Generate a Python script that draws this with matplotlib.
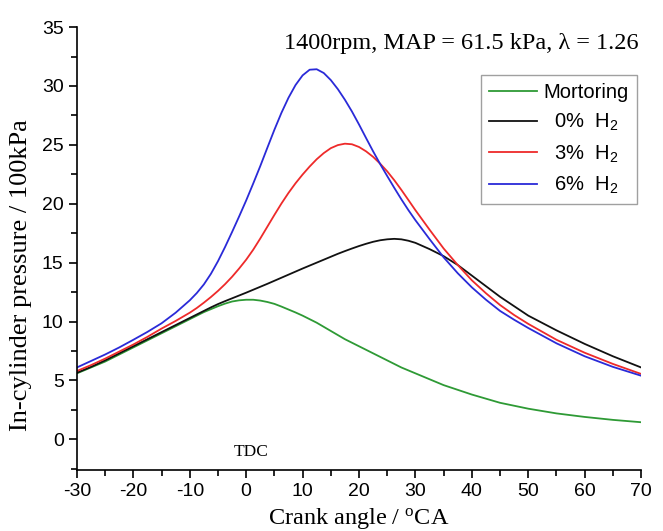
import numpy as np
import matplotlib.pyplot as plt
from matplotlib.ticker import MultipleLocator

plt.rcParams['font.family'] = ['Liberation Sans', 'DejaVu Sans']
plt.rcParams['mathtext.default'] = 'regular'
plt.rcParams['axes.unicode_minus'] = False

# crank angle (deg CA)
ca = [-30, -27.5, -25, -22.5, -20, -17.5, -15, -12.5, -10,
      -8.75, -7.5, -6.25, -5, -3.75, -2.5, -1.25, 0, 1.25, 2.5, 3.75, 5,
      6.25, 7.5, 8.75, 10, 11.25, 12.5, 13.75, 15, 16.25, 17.5, 18.75, 20,
      21.25, 22.5, 23.75, 25, 26.25, 27.5, 28.75, 30,
      32.5, 35, 37.5, 40, 42.5, 45, 47.5, 50, 55, 60, 65, 70]

# in-cylinder pressure / 100kPa
motoring = [5.6, 6.1, 6.6, 7.2, 7.8, 8.4, 9.0, 9.6, 10.2,
            10.5, 10.8, 11.05, 11.3, 11.52, 11.7, 11.8, 11.85, 11.85, 11.78,
            11.66, 11.5, 11.27, 11.02, 10.77, 10.5, 10.2, 9.9, 9.55, 9.2, 8.85,
            8.5, 8.2, 7.9, 7.6, 7.3, 7.0, 6.7, 6.4, 6.1, 5.85, 5.6,
            5.1, 4.6, 4.2, 3.8, 3.45, 3.1, 2.85, 2.6, 2.2, 1.9, 1.65, 1.45]
h2_0 = [5.65, 6.15, 6.7, 7.3, 7.9, 8.5, 9.1, 9.7, 10.3,
        10.6, 10.9, 11.2, 11.48, 11.73, 11.97, 12.21, 12.45, 12.7, 12.95, 13.2,
        13.46, 13.72, 13.98, 14.24, 14.5, 14.75, 15.0, 15.25, 15.5, 15.75, 15.98,
        16.2, 16.41, 16.6, 16.77, 16.9, 16.98, 17.02, 16.98, 16.86, 16.68,
        16.15, 15.55, 14.8, 13.9, 13.0, 12.1, 11.3, 10.5, 9.25, 8.1, 7.05, 6.1]
h2_3 = [5.8, 6.3, 6.85, 7.45, 8.05, 8.7, 9.4, 10.05, 10.75,
        11.15, 11.6, 12.08, 12.6, 13.17, 13.8, 14.5, 15.25, 16.1, 17.05, 18.05,
        19.05, 20.02, 20.92, 21.74, 22.48, 23.16, 23.78, 24.3, 24.72, 24.98, 25.1,
        25.05, 24.82, 24.45, 23.98, 23.4, 22.75, 22.0, 21.18, 20.32, 19.45,
        17.8, 16.2, 14.8, 13.5, 12.4, 11.4, 10.55, 9.8, 8.45, 7.35, 6.4, 5.55]
h2_6 = [6.1, 6.65, 7.2, 7.8, 8.45, 9.12, 9.85, 10.75, 11.8,
        12.42, 13.15, 14.05, 15.12, 16.32, 17.6, 18.92, 20.28, 21.72, 23.2, 24.75,
        26.28, 27.72, 29.0, 30.08, 30.9, 31.38, 31.42, 31.1, 30.5, 29.73, 28.83,
        27.83, 26.73, 25.58, 24.45, 23.37, 22.35, 21.35, 20.38, 19.46, 18.6,
        17.0, 15.45, 14.1, 12.9, 11.85, 10.9, 10.15, 9.45, 8.15, 7.05, 6.15, 5.4]

fig = plt.figure(figsize=(6.63, 5.31), dpi=100)
ax = fig.add_axes([0.116, 0.115, 0.851, 0.834])

ax.plot(ca, motoring, color='#2e9a35', lw=1.3, label='Mortoring')
ax.plot(ca, h2_0, color='#111111', lw=1.3, label='  0%  H$_2$')
ax.plot(ca, h2_3, color='#ee2a2a', lw=1.3, label='  3%  H$_2$')
ax.plot(ca, h2_6, color='#2a2ad8', lw=1.3, label='  6%  H$_2$')

ax.set_xlim(-30, 70)
ax.set_ylim(-2.6, 35)
ax.xaxis.set_major_locator(MultipleLocator(10))
ax.xaxis.set_minor_locator(MultipleLocator(5))
ax.yaxis.set_major_locator(MultipleLocator(5))
ax.yaxis.set_minor_locator(MultipleLocator(2.5))
ax.tick_params(which='both', direction='out', width=1.2, labelsize=14)
ax.tick_params(which='major', length=6)
ax.tick_params(which='minor', length=4)
for s in ['top', 'right']:
    ax.spines[s].set_visible(False)
for s in ['left', 'bottom']:
    ax.spines[s].set_linewidth(1.2)

serif = ['Liberation Serif', 'DejaVu Serif']
ax.set_xlabel('Crank angle / $^{o}$CA', family=serif, fontsize=17.5, labelpad=4)
ax.set_ylabel('In-cylinder pressure / 100kPa', family=serif, fontsize=19)
ax.yaxis.set_label_coords(-0.08, 0.44)
ax.text(69.5, 33.6, '1400rpm, MAP = 61.5 kPa, λ = 1.26', family=serif,
        fontsize=17.5, ha='right', va='center')
ax.text(0.8, -1.1, 'TDC', family=serif, fontsize=12.5, ha='center', va='center')

leg = ax.legend(loc='upper left', bbox_to_anchor=(481 / 663, 1 - 75 / 531),
                bbox_transform=fig.transFigure, fontsize=14.5,
                fancybox=False, edgecolor='#888888', handlelength=2.4,
                borderpad=0.4, labelspacing=0.5, handletextpad=0.3,
                borderaxespad=0)
leg.get_frame().set_linewidth(1.0)

fig.savefig('out.png', dpi=100)
